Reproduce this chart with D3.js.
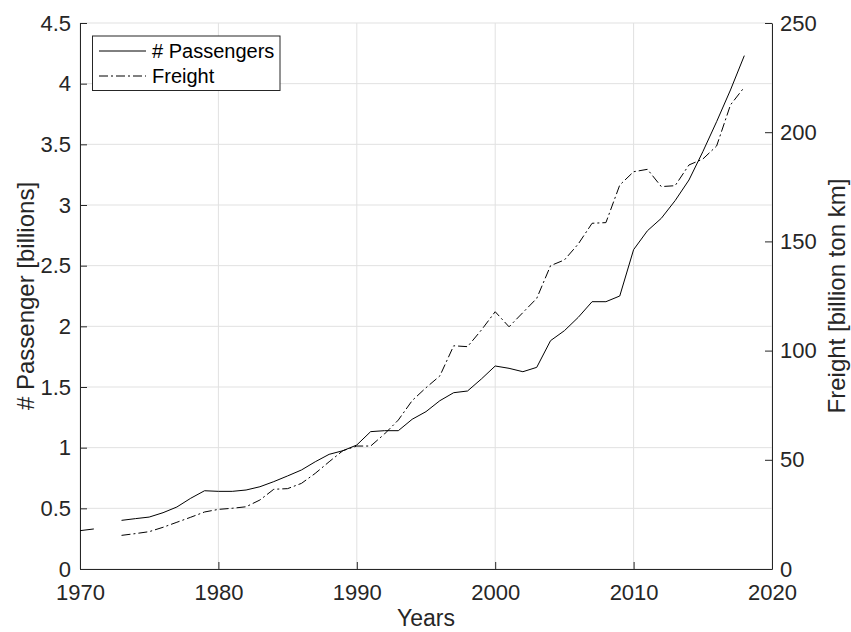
<!DOCTYPE html>
<html>
<head>
<meta charset="utf-8">
<script src="https://cdn.jsdelivr.net/npm/d3@7"></script>
<style>
  html, body { margin: 0; padding: 0; background: #fff; }
  svg { display: block; font-family: "Liberation Sans", Arial, Helvetica, sans-serif; }
</style>
</head>
<body>
<svg id="chart" width="851" height="632"></svg>
<script>
// Yearly figures; null marks a year with no reported value.
const years = d3.range(1970, 2019);
const passengers = [
  0.316, 0.330, null, 0.401, 0.415, 0.428, 0.464, 0.511, 0.583, 0.645,
  0.640, 0.640, 0.651, 0.678, 0.720, 0.767, 0.816, 0.884, 0.945, 0.975,
  1.022, 1.132, 1.140, 1.140, 1.234, 1.297, 1.387, 1.453, 1.467, 1.566,
  1.673, 1.654, 1.626, 1.662, 1.882, 1.964, 2.074, 2.203, 2.203, 2.250,
  2.632, 2.788, 2.890, 3.036, 3.206, 3.439, 3.687, 3.948, 4.231
];
const freight = [
  null, null, null, 15.4, 16.2, 17.1, 19.1, 21.4, 23.7, 26.1,
  27.3, 27.8, 28.5, 31.6, 36.5, 36.8, 39.2, 43.8, 49.1, 54.2,
  56.3, 56.3, 61.8, 68.2, 77.1, 83.0, 88.4, 102.2, 101.8, 109.4,
  117.8, 110.9, 117.4, 123.9, 138.9, 141.5, 148.8, 158.3, 158.6, 175.8,
  181.9, 183.0, 175.1, 175.5, 185.0, 187.7, 193.7, 212.5, 220.6
];
const xTicks = [1970, 1980, 1990, 2000, 2010, 2020];
const leftTicks = [0, 0.5, 1, 1.5, 2, 2.5, 3, 3.5, 4, 4.5];
const rightTicks = [0, 50, 100, 150, 200, 250];
const seriesNames = ["# Passengers", "Freight"];

const svg = d3.select("#chart");
const L = 80, R = 772, T = 23, B = 569;
const axisColor = "#262626";
const gridColor = "#e1e1e1";
const tickFont = 22, labelFont = 24, legendFont = 20;

const x = d3.scaleLinear().domain([1970, 2020]).range([L, R]);
const yL = d3.scaleLinear().domain([0, 4.5]).range([B, T]);
const yR = d3.scaleLinear().domain([0, 250]).range([B, T]);

// grid
const grid = svg.append("g");
grid.selectAll("line.v").data(xTicks).join("line")
  .attr("x1", d => x(d)).attr("x2", d => x(d))
  .attr("y1", T).attr("y2", B)
  .attr("stroke", gridColor).attr("stroke-width", 1);
grid.selectAll("line.h").data(leftTicks).join("line")
  .attr("x1", L).attr("x2", R)
  .attr("y1", d => yL(d)).attr("y2", d => yL(d))
  .attr("stroke", gridColor).attr("stroke-width", 1);

// axes (inward ticks)
function styleAxis(g) {
  g.select(".domain").attr("stroke", axisColor).attr("stroke-width", 1);
  g.selectAll(".tick line").attr("stroke", axisColor);
  g.selectAll(".tick text").attr("fill", axisColor)
    .attr("font-size", tickFont).attr("font-family", "Liberation Sans, Arial, sans-serif");
}
const xAxis = svg.append("g").attr("transform", `translate(0,${B})`)
  .call(d3.axisBottom(x).tickValues(xTicks).tickFormat(d3.format("d"))
    .tickSizeInner(-7).tickSizeOuter(0).tickPadding(15));
styleAxis(xAxis);

const leftAxis = svg.append("g").attr("transform", `translate(${L},0)`)
  .call(d3.axisLeft(yL).tickValues(leftTicks).tickFormat(d => d3.format("")(d))
    .tickSizeInner(-7).tickSizeOuter(0).tickPadding(9));
styleAxis(leftAxis);

const rightAxis = svg.append("g").attr("transform", `translate(${R},0)`)
  .call(d3.axisRight(yR).tickValues(rightTicks).tickFormat(d3.format("d"))
    .tickSizeInner(-7).tickSizeOuter(0).tickPadding(8));
styleAxis(rightAxis);

// series
const passLine = d3.line()
  .defined(d => d[1] != null)
  .x(d => x(d[0])).y(d => yL(d[1]));
const freightLine = d3.line()
  .defined(d => d[1] != null)
  .x(d => x(d[0])).y(d => yR(d[1]));

svg.append("path")
  .datum(years.map((yr, i) => [yr, passengers[i]]))
  .attr("d", passLine)
  .attr("fill", "none").attr("stroke", "#000").attr("stroke-width", 1);

svg.append("path")
  .datum(years.map((yr, i) => [yr, freight[i]]))
  .attr("d", freightLine)
  .attr("fill", "none").attr("stroke", "#000").attr("stroke-width", 1)
  .attr("stroke-dasharray", "9,3,2,3");

// axis labels
svg.append("text")
  .attr("x", (L + R) / 2).attr("y", 626)
  .attr("text-anchor", "middle").attr("font-size", 23).attr("fill", axisColor)
  .text("Years");
svg.append("text")
  .attr("transform", `translate(34,${(T + B) / 2}) rotate(-90)`)
  .attr("text-anchor", "middle").attr("font-size", labelFont).attr("fill", axisColor)
  .text("# Passenger [billions]");
svg.append("text")
  .attr("transform", `translate(845,${(T + B) / 2}) rotate(-90)`)
  .attr("text-anchor", "middle").attr("font-size", labelFont).attr("fill", axisColor)
  .text("Freight [billion ton km]");

// legend
const lg = svg.append("g");
lg.append("rect")
  .attr("x", 92.5).attr("y", 36).attr("width", 187.5).attr("height", 54.5)
  .attr("fill", "#fff").attr("stroke", axisColor).attr("stroke-width", 1);
const dashes = [null, "9,3,2,3"];
seriesNames.forEach((name, i) => {
  const yy = 51 + i * 25;
  lg.append("line")
    .attr("x1", 99).attr("x2", 146).attr("y1", yy).attr("y2", yy)
    .attr("stroke", "#000").attr("stroke-width", 1)
    .attr("stroke-dasharray", dashes[i]);
  lg.append("text")
    .attr("x", 152).attr("y", yy + 7)
    .attr("font-size", legendFont).attr("fill", "#000")
    .text(name);
});
</script>
</body>
</html>
